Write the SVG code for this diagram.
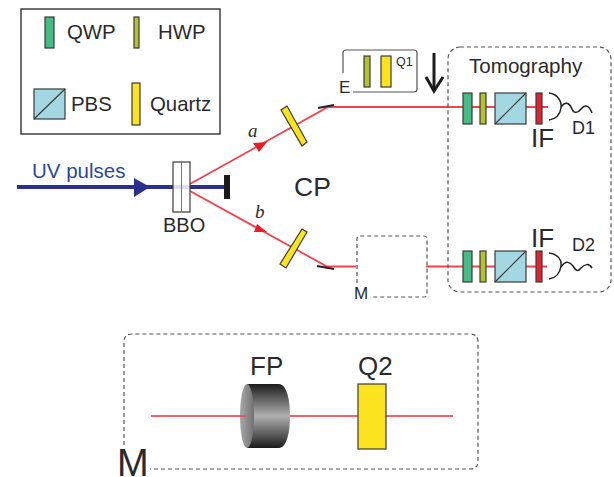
<svg xmlns="http://www.w3.org/2000/svg" width="614" height="477" viewBox="0 0 614 477">
<style>
text{font-family:"Liberation Sans",Arial,sans-serif;fill:#2a2a2e}
.s{stroke:#3a3a3a;stroke-width:1.2}
.q{fill:#48bb85}.h{fill:#b4c22e}.p{fill:#a3d8e3}.z{fill:#fbe41f}.f{fill:#dd2430}
.b{stroke:#f2434f;stroke-width:1.8;fill:none}
.d{fill:none;stroke:#555;stroke-width:1.2;stroke-dasharray:4 3}
.l{fill:none;stroke:#555;stroke-width:1.2}
.w{fill:none;stroke:#222;stroke-width:1.5}
.m{stroke:#222;stroke-width:2.2}
</style>
<defs>
<linearGradient id="cyl" x1="0" y1="0" x2="0" y2="1"><stop offset="0" stop-color="#1c1c1c"/><stop offset=".5" stop-color="#b0b0b0"/><stop offset="1" stop-color="#1c1c1c"/></linearGradient>
<linearGradient id="face" x1="0" y1="0" x2="1" y2="0"><stop offset="0" stop-color="#a8a8a8"/><stop offset="1" stop-color="#707070"/></linearGradient>
</defs>
<g id="connectors">
<path d="M17 187H225" stroke="#2b2f8f" stroke-width="4" fill="none"/>
<path d="M134 178L150 187L134 197Z" fill="#2b2f8f"/>
<path class="b" d="M190 184L328 107H548"/>
<path class="b" d="M190 191L327 266.500H356"/>
<path class="b" d="M426 266.500H547"/>
<path d="M253 143L267 142L259 152Z" fill="#ee1c25"/>
<path d="M257 224L267 232L254 232Z" fill="#ee1c25"/>
<path d="M151 416H453" stroke="#f5606a" stroke-width="2" fill="none"/>
</g>
<g id="legend">
<rect x="21" y="9" width="199" height="125" fill="#fff" stroke="#333" stroke-width="1.4"/>
<rect class="q s" x="45" y="17" width="9" height="31"/>
<text x="67" y="39" font-size="20.400">QWP</text>
<rect class="h s" x="134" y="17" width="5" height="31"/>
<text x="158" y="39" font-size="20.400">HWP</text>
<rect class="p s" x="34" y="89" width="31" height="30"/>
<path class="s" d="M34 119L65 89" fill="none"/>
<text x="71" y="111" font-size="20.400">PBS</text>
<rect class="z s" x="132" y="83" width="8" height="42"/>
<text x="150" y="111" font-size="20.400">Quartz</text>
</g>
<g id="uv"><text x="32" y="178" font-size="20.500" style="fill:#2b4a9c">UV pulses</text></g>
<g id="bbo">
<rect x="173" y="162" width="17" height="50" fill="#fff" fill-opacity=".85" class="s"/>
<path d="M181.500 162V212" stroke="#777" stroke-width="1"/>
<text x="163" y="232" font-size="20">BBO</text>
</g>
<g id="block"><rect x="224" y="175" width="6" height="24" fill="#1a1a1a"/></g>
<g id="label-a"><text x="248" y="137" font-size="19" font-style="italic" style="font-family:'Liberation Serif',serif">a</text></g>
<g id="label-b"><text x="255" y="218" font-size="19" font-style="italic" style="font-family:'Liberation Serif',serif">b</text></g>
<g id="plate-a"><path class="z s" d="M287 106L281 110L302 146L307 142Z"/></g>
<g id="plate-b"><path class="z s" d="M302 229L307 232L286 268L280 264Z"/></g>
<g id="mirror-a"><path class="m" d="M318 108L334 105"/></g>
<g id="mirror-b"><path class="m" d="M317 266L334 269"/></g>
<g id="cp"><text x="294" y="196" font-size="26.500">CP</text></g>
<g id="e-box">
<path class="l" d="M343 73V53Q343 50 346 50H414Q417 50 417 53V89Q417 92 414 92H353"/>
<text x="339" y="93" font-size="17">E</text>
<rect class="h s" x="364" y="56" width="6" height="31"/>
<rect class="z s" x="381" y="56" width="10" height="31"/>
<text x="396" y="66" font-size="12.500">Q1</text>
</g>
<g id="shift-arrow"><path d="M434 53V89" stroke="#1c1c1c" stroke-width="3" fill="none"/><path d="M426 77L434 91L443 77" stroke="#1c1c1c" stroke-width="3" fill="none"/></g>
<g id="tomography">
<rect class="d" x="448" y="47" width="163" height="245" rx="12"/>
<text x="469" y="73" font-size="20.600">Tomography</text>
</g>
<g id="arm-1">
<rect class="q s" x="463" y="93" width="9" height="31"/>
<rect class="h s" x="480" y="93" width="6" height="31"/>
<rect class="p s" x="495" y="93" width="31" height="31"/>
<path class="s" d="M495 124L526 93" fill="none"/>
<rect class="f s" x="536" y="93" width="6" height="31"/>
<path class="w" d="M549 93C558 94 562 102 561 108C560 115 556 119 549 120"/>
<path class="w" d="M561 107C566 100 570 104 572 109C574 114 578 113 581 109C585 104 589 105 592 113"/>
<text x="531" y="147" font-size="26">IF</text>
<text x="572" y="134" font-size="18">D1</text>
</g>
<g id="arm-2">
<rect class="q s" x="463" y="251" width="9" height="31"/>
<rect class="h s" x="480" y="251" width="6" height="31"/>
<rect class="p s" x="495" y="251" width="31" height="31"/>
<path class="s" d="M495 282L526 251" fill="none"/>
<rect class="f s" x="536" y="251" width="6" height="31"/>
<path class="w" d="M549 253C558 254 562 260 561 266C560 273 556 278 549 279"/>
<path class="w" d="M561 267C566 260 570 262 573 266C576 271 578 272 581 268C585 264 589 263 592 268"/>
<text x="531" y="247" font-size="26">IF</text>
<text x="572" y="251" font-size="18">D2</text>
</g>
<g id="m-small">
<path class="d" d="M357 283V239Q357 236 360 236H424Q427 236 427 239V294Q427 297 424 297H370"/>
<text x="354" y="299" font-size="17">M</text>
</g>
<g id="m-detail">
<path class="d" d="M124 445V342Q124 334 132 334H470Q478 334 478 342V461Q478 469 470 469H150"/>
<text x="117" y="476" font-size="38">M</text>
<g id="fp">
<path d="M247 384H279C286 384 290 398 290 416C290 434 286 448 279 448H247Z" fill="url(#cyl)"/>
<ellipse cx="247" cy="416" rx="7" ry="32" fill="url(#face)"/>
<path d="M240 416H246" stroke="#f0444f" stroke-width="1.600"/>
<text x="250" y="375" font-size="26">FP</text>
</g>
<g id="q2">
<rect class="z s" x="358" y="384" width="28" height="65"/>
<text x="358" y="375" font-size="26">Q2</text>
</g>
</g>
</svg>
